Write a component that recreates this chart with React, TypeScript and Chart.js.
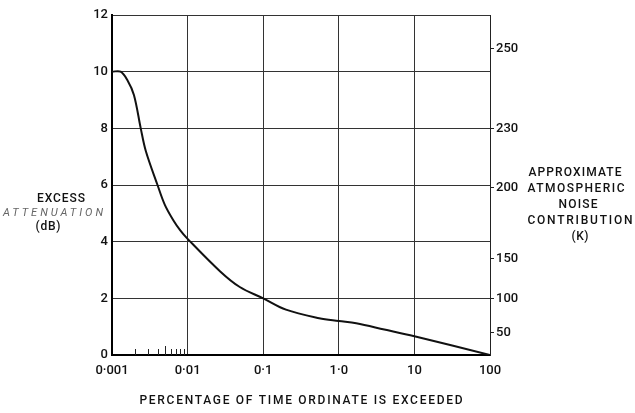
import React, { useEffect, useRef } from 'react';
import { Chart, registerables } from 'chart.js';

Chart.register(...registerables);

// Curve: percentage of time ordinate is exceeded vs excess attenuation (dB)
const percentTime = [0.001, 0.0013, 0.0016, 0.00195, 0.0024, 0.0028, 0.004, 0.005, 0.0065, 0.008, 0.01, 0.027, 0.049, 0.1, 0.2, 0.55, 1.0, 1.7, 4.0, 10, 100];
const excessAttenuation = [10, 10, 9.7, 9.18, 8.0, 7.2, 6.0, 5.3, 4.75, 4.4, 4.1, 2.95, 2.4, 2.0, 1.6, 1.3, 1.2, 1.12, 0.9, 0.66, 0];

const xTickValues = [0.001, 0.01, 0.1, 1, 10, 100];
const xTickLabels = ['0·001', '0·01', '0·1', '1·0', '10', '100'];
const yTickValues = [0, 2, 4, 6, 8, 10, 12];
const yTickLabels = ['0', '2', '4', '6', '8', '10', '12'];

// Right axis: noise contribution (K) positioned at equivalent attenuation (dB)
const noiseTickLabels = ['250', '230', '200', '150', '100', '50'];
const noiseTickAttenuation = [10.8, 8.0, 5.92, 3.41, 1.98, 0.78];

// Small minor tick marks on the bottom axis
const minorTickValues = [0.002, 0.003, 0.004, 0.005, 0.006, 0.007, 0.008, 0.009];

const yTitleLines = ['EXCESS', 'ATTENUATION', '(dB)'];
const y2TitleLines = ['APPROXIMATE', 'ATMOSPHERIC', 'NOISE', 'CONTRIBUTION', '(K)'];
const xTitle = 'PERCENTAGE OF TIME ORDINATE IS EXCEEDED';

const FONT = 'Roboto, "Liberation Sans", sans-serif';

function drawSpaced(ctx: CanvasRenderingContext2D, text: string, cx: number, cy: number, target: number) {
  (ctx as any).letterSpacing = '0px';
  const w = ctx.measureText(text).width;
  const n = Math.max(1, text.length - 1);
  const sp = (target - w) / n;
  (ctx as any).letterSpacing = `${sp}px`;
  ctx.textAlign = 'left';
  ctx.fillText(text, cx - target / 2, cy);
  (ctx as any).letterSpacing = '0px';
}

const textPlugin = {
  id: 'textPlugin',
  afterDraw(chart: any) {
    const ctx = chart.ctx as CanvasRenderingContext2D;
    const xs = chart.scales.x;
    const area = chart.chartArea;
    ctx.save();
    // minor ticks
    ctx.strokeStyle = '#222';
    ctx.lineWidth = 1;
    minorTickValues.forEach((v) => {
      const px = Math.round(xs.getPixelForValue(v)) + 0.5;
      const h = v === 0.005 ? 9 : 6;
      ctx.beginPath();
      ctx.moveTo(px, area.bottom);
      ctx.lineTo(px, area.bottom - h);
      ctx.stroke();
    });

    ctx.fillStyle = '#111';
    ctx.textBaseline = 'middle';
    ctx.font = `500 12px ${FONT}`;
    drawSpaced(ctx, yTitleLines[0], 61, 199, 48);
    ctx.save();
    ctx.fillStyle = '#666';
    ctx.font = `italic 11px ${FONT}`;
    drawSpaced(ctx, yTitleLines[1], 53, 213, 100);
    ctx.restore();
    drawSpaced(ctx, yTitleLines[2], 48, 227, 25);

    const rCenters = [575, 576, 578, 580, 580];
    const rYs = [173, 189, 205, 221, 237];
    const rWidths = [93, 97, 39, 105, 17];
    y2TitleLines.forEach((t, i) => drawSpaced(ctx, t, rCenters[i], rYs[i], rWidths[i]));

    drawSpaced(ctx, xTitle, 301, 401, 323);
    ctx.restore();
  },
};

export default function App() {
  const canvasRef = useRef<HTMLCanvasElement | null>(null);

  useEffect(() => {
    if (!canvasRef.current) return;
    const tickFont = { family: FONT, size: 13, weight: '500' };
    const chart = new Chart(canvasRef.current, {
      type: 'line',
      data: {
        datasets: [
          {
            data: percentTime.map((x, i) => ({ x, y: excessAttenuation[i] })),
            borderColor: '#111',
            borderWidth: 2,
            pointRadius: 0,
            tension: 0.35,
            fill: false,
          },
        ],
      },
      options: {
        responsive: false,
        animation: false,
        devicePixelRatio: 1,
        layout: { padding: { top: 15, left: 0, right: 0, bottom: 0 } },
        plugins: { legend: { display: false }, tooltip: { enabled: false } },
        scales: {
          x: {
            type: 'logarithmic',
            min: 0.001,
            max: 100,
            afterBuildTicks: (s: any) => {
              s.ticks = xTickValues.map((v) => ({ value: v }));
            },
            afterFit: (s: any) => {
              s.height = 58;
            },
            ticks: {
              callback: (_v: any, i: number) => xTickLabels[i],
              autoSkip: false,
              maxRotation: 0,
              padding: 8,
              color: '#111',
              font: tickFont,
            },
            grid: { color: '#333', lineWidth: 1, drawTicks: false },
            border: { color: '#000', width: 2 },
          },
          y: {
            type: 'linear',
            position: 'left',
            min: 0,
            max: 12,
            afterBuildTicks: (s: any) => {
              s.ticks = yTickValues.map((v) => ({ value: v }));
            },
            afterFit: (s: any) => {
              s.width = 112;
            },
            ticks: {
              callback: (_v: any, i: number) => yTickLabels[i],
              padding: 4,
              color: '#111',
              font: tickFont,
            },
            grid: { color: '#333', lineWidth: 1, drawTicks: false },
            border: { color: '#000', width: 2 },
          },
          y2: {
            type: 'linear',
            position: 'right',
            min: 0,
            max: 12,
            afterBuildTicks: (s: any) => {
              s.ticks = noiseTickAttenuation.map((v) => ({ value: v }));
            },
            afterFit: (s: any) => {
              s.width = 145;
            },
            ticks: {
              callback: (_v: any, i: number) => noiseTickLabels[i],
              padding: 2,
              color: '#111',
              font: tickFont,
            },
            grid: { drawOnChartArea: false, drawTicks: true, tickLength: 4, color: '#222' },
            border: { display: true, color: '#222', width: 1 },
          },
        },
      },
      plugins: [textPlugin],
    } as any);
    return () => chart.destroy();
  }, []);

  return (
    <div style={{ position: 'fixed', left: 0, top: 0, width: 635, height: 413, background: '#fff' }}>
      <canvas ref={canvasRef} width={635} height={413} />
    </div>
  );
}
